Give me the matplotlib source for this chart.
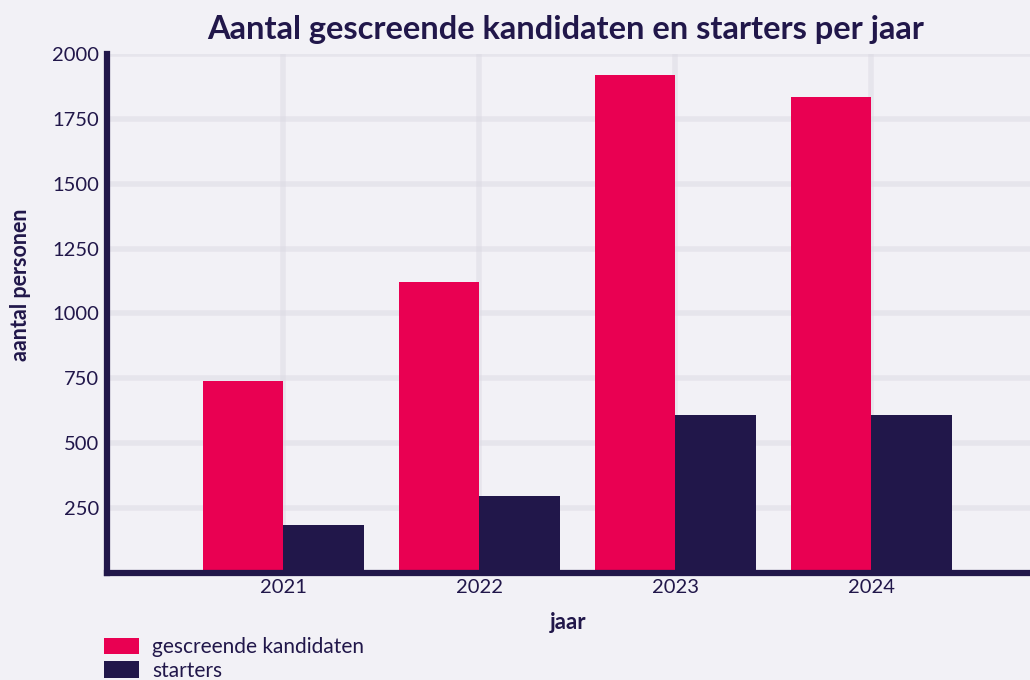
import numpy as np
import matplotlib
matplotlib.use('Agg')
import matplotlib.pyplot as plt

years = ['2021', '2022', '2023', '2024']
gescreend = [740, 1120, 1918, 1834]
starters = [185, 297, 608, 608]

pink = '#e90052'
navy = '#21174a'
bg = '#f2f1f6'

plt.rcParams['font.family'] = ['Lato', 'DejaVu Sans']

fig = plt.figure(figsize=(10.3, 6.8), dpi=100, facecolor=bg)
ax = fig.add_axes([0.104, 0.157, 0.896, 0.764], facecolor=bg)

x = np.arange(len(years))
w = 0.41
ax.bar(x - w / 2, gescreend, w, color=pink, label='gescreende kandidaten', zorder=2)
ax.bar(x + w / 2, starters, w, color=navy, label='starters', zorder=2)

ax.set_xlim(-0.9, 3.81)
ax.set_ylim(0, 2000)
ax.set_xticks(x)
ax.set_xticklabels(years)
ax.set_yticks([250, 500, 750, 1000, 1250, 1500, 1750, 2000])
ax.tick_params(length=0, labelsize=14.5, labelcolor=navy, pad=6)
ax.tick_params(axis='x', pad=4)

ax.grid(True, color='#dcdae4', alpha=0.5, linewidth=4, zorder=0)
ax.set_axisbelow(True)

for s in ['top', 'right']:
    ax.spines[s].set_visible(False)
for s in ['left', 'bottom']:
    ax.spines[s].set_color(navy)
    ax.spines[s].set_linewidth(4.5)
    ax.spines[s].set_zorder(3)

ax.set_xlabel('jaar', fontsize=16, fontweight='bold', color=navy)
ax.xaxis.set_label_coords(0.5, -0.075)
ax.set_ylabel('aantal personen', fontsize=15.5, fontweight='bold', color=navy)
ax.yaxis.set_label_coords(-0.083, 0.555)

fig.suptitle('Aantal gescreende kandidaten en starters per jaar', x=0.549, y=0.978,
             fontsize=23.5, fontweight='bold', color=navy)

ax.legend(loc='upper left', bbox_to_anchor=(-0.003, -0.123), frameon=False,
          fontsize=15, labelcolor=navy, handlelength=1.68, handleheight=0.85,
          handletextpad=0.62, labelspacing=0.18, borderaxespad=0, borderpad=0)

fig.savefig('out.png', dpi=100, facecolor=bg)
